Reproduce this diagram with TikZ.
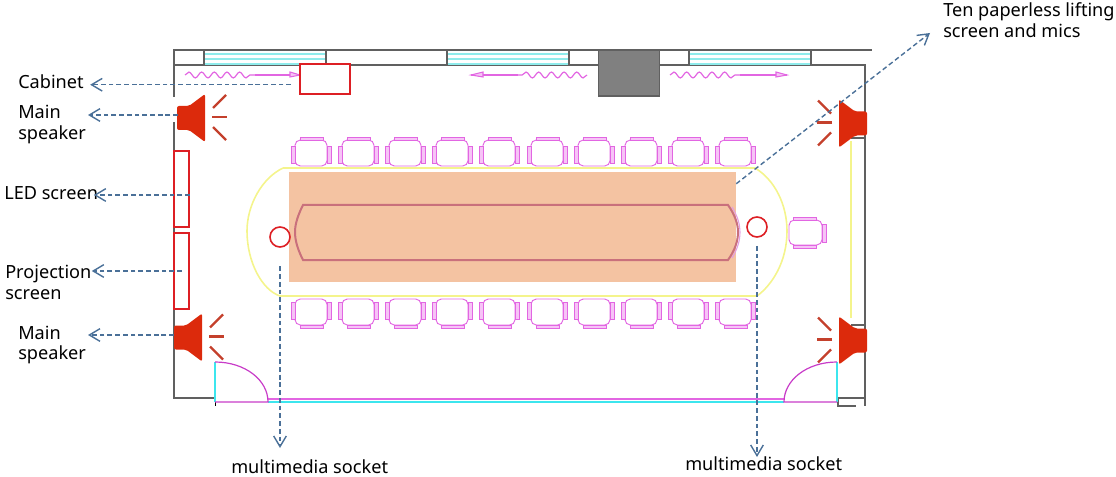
\documentclass[tikz,border=0pt]{standalone}
\usepackage{fontspec}
\setmainfont{Noto Sans}
\usetikzlibrary{arrows.meta,decorations.pathmorphing}
\definecolor{wallgray}{HTML}{606060}
\definecolor{winblue}{HTML}{8FECEC}
\definecolor{pinkline}{HTML}{E266E2}
\definecolor{chairfill}{HTML}{F6C4F6}
\definecolor{spkred}{HTML}{DC2A0C}
\definecolor{rayred}{HTML}{C4402C}
\definecolor{boxred}{HTML}{DD1F24}
\definecolor{guideblue}{HTML}{4A7098}
\definecolor{tableorange}{HTML}{F4C3A2}
\definecolor{tablerim}{HTML}{C9707C}
\definecolor{ringyellow}{HTML}{F4F48C}
\definecolor{doorpurple}{HTML}{C83CC8}
\definecolor{doorcyan}{HTML}{3CE6EE}
\tikzset{
    wall/.style={draw=wallgray,line width=0.8pt},
    redbox/.style={draw=boxred,line width=1.2pt,inner sep=0pt},
    socket/.style={draw=boxred,line width=1.2pt,circle,inner sep=0pt,minimum size=15pt},
    guide/.style={draw=guideblue,line width=1.05pt,dash pattern=on 3.6pt off 2.2pt,-{Straight Barb[length=8pt,width=9.5pt]}},
    lbl/.style={align=left,anchor=west,inner sep=0pt,font=\fontsize{13.6}{15.7}\selectfont},
    curtain/.style={draw=pinkline,line width=0.9pt,decorate,decoration={snake,segment length=9.5pt,amplitude=2.2pt}},
    rail/.style={draw=pinkline,line width=0.8pt},
    chair/.pic={
        \draw[pinkline,line width=0.7pt,rounded corners=4pt] (-16,-13) rectangle (16,13);
        \draw[pinkline,fill=chairfill,line width=0.5pt] (-20,-7) rectangle (-16,10);
        \draw[pinkline,fill=chairfill,line width=0.5pt] (16,-7) rectangle (20,10);
        \draw[pinkline,fill=chairfill,line width=0.5pt] (-11,-16) rectangle (12,-13);
    },
    speaker/.pic={
        \fill[spkred,rounded corners=1.5pt] (0,-24) -- (0,24) -- (-16,12) -- (-28,12) -- (-28,-12) -- (-16,-12) -- cycle;
        \draw[rayred,line width=1.7pt] (8,-10) -- (21,-23);
        \draw[rayred,line width=1.7pt] (7,-1) -- (22,-1);
        \draw[rayred,line width=1.7pt] (8,9) -- (21,22);
    }
}
\begin{document}
\begin{tikzpicture}[x=0.75pt,y=-0.75pt]
    \useasboundingbox (0,0) rectangle (1116,477);
    % walls
    \draw[wall] (174,97) -- (174,50) -- (872,50);
    \draw[wall] (174,65) -- (865,65) -- (865,406);
    \draw[wall] (174,122) -- (174,398) -- (215,398);
    \draw[wall] (851,138) -- (865,138);
    \draw[wall] (851,325) -- (865,325);
    \draw[wall] (865,398) -- (838,398) -- (838,406) -- (856,406);
    \draw[black,line width=0.6pt] (215,402) -- (215,406);
    % windows
    \foreach \wx in {204,447,689} {
        \draw[winblue,line width=0.9pt] (\wx,54) -- ++(122,0);
        \draw[winblue,line width=0.9pt] (\wx,59) -- ++(122,0);
        \draw[winblue,line width=0.9pt] (\wx,64) -- ++(122,0);
        \draw[wallgray,line width=0.8pt] (\wx,50) -- ++(0,15);
        \draw[wallgray,line width=0.8pt] (\wx+122,50) -- ++(0,15);
    }
    \node[draw=wallgray,fill=black!50,line width=0.8pt,inner sep=0pt,minimum width=46pt,minimum height=34.5pt] (pillar) at (629,73) {};
    % curtains
    \draw[curtain] (185,75) -- (255,75);
    \draw[rail] (255,75) -- (300,75);
    \draw[rail,fill=chairfill] (290,72) -- (300,75) -- (290,77) -- cycle;
    \draw[curtain] (587,75) -- (518,75);
    \draw[rail] (518,75) -- (471,75);
    \draw[rail,fill=chairfill] (483,72) -- (471,75) -- (483,77) -- cycle;
    \draw[curtain] (670,75) -- (740,75);
    \draw[rail] (740,75) -- (787,75);
    \draw[rail,fill=chairfill] (776,72) -- (787,75) -- (776,77) -- cycle;
    % table
    \draw[ringyellow,line width=1.2pt] (283,168) -- (755,168) .. controls (775,180) and (787,205) .. (787,231) .. controls (787,262) and (772,285) .. (757,296) -- (280,296) .. controls (262,290) and (247,262) .. (247,231) .. controls (247,205) and (262,178) .. (283,168);
    \node[fill=tableorange,inner sep=0pt,minimum width=335.25pt,minimum height=82.5pt] (tablearea) at (512.5,227) {};
    \draw[tablerim,line width=1.5pt] (303,205) -- (728,205) .. controls (735,215) and (738,224) .. (738,232) .. controls (738,241) and (735,250) .. (728,260) -- (303,260) .. controls (298,250) and (295,241) .. (295,232) .. controls (295,224) and (298,215) .. (303,205) -- cycle;
    \draw[doorpurple!50,line width=0.8pt] (732,207) .. controls (738,217) and (740,225) .. (740,232) .. controls (740,240) and (738,248) .. (732,258);
    \foreach \cx in {311,358,405,452,499,547,594,641,688,735} {
        \pic at (\cx,153) {chair};
        \pic[yscale=-1] at (\cx,312) {chair};
    }
    \draw[pinkline,line width=0.7pt,rounded corners=4pt] (789,220) rectangle (822,245);
    \draw[pinkline,fill=chairfill,line width=0.5pt] (793,217) rectangle (816,220);
    \draw[pinkline,fill=chairfill,line width=0.5pt] (793,245) rectangle (816,248);
    \draw[pinkline,fill=chairfill,line width=0.5pt] (822,224) rectangle (826,242);
    \draw[ringyellow,line width=1.2pt] (851,141) -- (851,318);
    % doors
    \draw[rail] (268,399) -- (784,399);
    \draw[doorcyan,line width=0.9pt] (268,402) -- (784,402);
    \draw[doorcyan,line width=1.4pt] (215,362) -- (215,402);
    \draw[doorpurple,line width=0.9pt] (215,362) .. controls (245,362) and (268,380) .. (268,402) -- (215,402);
    \draw[doorcyan,line width=1.4pt] (837,362) -- (837,402);
    \draw[doorpurple,line width=0.9pt] (837,362) .. controls (807,362) and (784,380) .. (784,402) -- (837,402);
    % speakers
    \pic at (205,118) {speaker};
    \pic at (202,337.5) {speaker};
    \pic[xscale=-1] at (839,123.5) {speaker};
    \pic[xscale=-1] at (839,340.5) {speaker};
    \coordinate (speakerA) at (178,115);
    \coordinate (speakerB) at (174,335);
    % equipment
    \node[redbox,fill=white,minimum width=37.5pt,minimum height=22.5pt] (cabinetbox) at (325,79) {};
    \node[redbox,minimum width=11.25pt,minimum height=57pt] (ledbox) at (181.5,189) {};
    \node[redbox,minimum width=11.25pt,minimum height=57pt] (projbox) at (181.5,271) {};
    \node[socket] (socketA) at (280,237) {};
    \node[socket] (socketB) at (757,227) {};
    % labels
    \node[lbl] (cabinetlabel) at (18,82) {Cabinet};
    \node[lbl] (speakerlabelA) at (18,124.5) {Main\\speaker};
    \node[lbl] (ledlabel) at (4,193) {LED screen};
    \node[lbl] (projlabel) at (5,282) {Projection\\screen};
    \node[lbl] (speakerlabelB) at (18,345) {Main\\speaker};
    \node[lbl] (socketlabelA) at (231,467) {multimedia socket};
    \node[lbl] (socketlabelB) at (685,464) {multimedia socket};
    \node[lbl] (tenlabel) at (943,20.5) {Ten paperless lifting\\screen and mics};
    % connectors
    \draw[guide,shorten <=6pt] ([yshift=-4.3pt]cabinetbox.west) -- ++(-209,0);
    \draw[guide] (speakerA) -- ++(-90,0);
    \draw[guide] ([yshift=-4.5pt]ledbox.east) -- ++(-96,0);
    \draw[guide] ([xshift=-6pt]projbox.east) -- ++(-90,0);
    \draw[guide] (speakerB) -- ++(-86,0);
    \draw[guide,shorten <=14pt] (socketA.south) -- (280,448);
    \draw[guide,shorten <=6pt] (socketB.south) -- (757,457);
    \draw[guide] ([yshift=-9pt]tablearea.north east) -- (930,33);
\end{tikzpicture}
\end{document}
